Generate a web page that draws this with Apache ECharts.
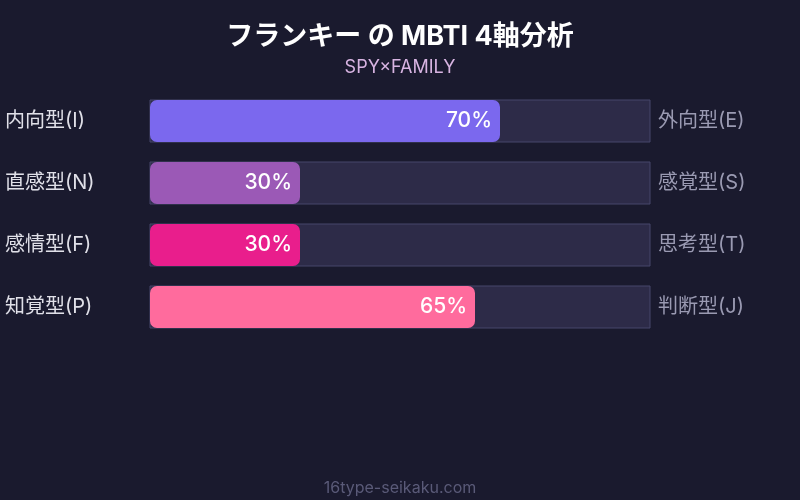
<!DOCTYPE html>
<html>
<head>
<meta charset="utf-8">
<script src="https://cdn.jsdelivr.net/npm/echarts@6/dist/echarts.min.js"></script>
<style>
  html, body { margin: 0; padding: 0; background: #1a1a2e; }
  #main { width: 800px; height: 500px; }
</style>
</head>
<body>
<div id="main"></div>
<script>
// MBTI 4軸 データ
var leftLabels = ['内向型(I)', '直感型(N)', '感情型(F)', '知覚型(P)'];
var rightLabels = ['外向型(E)', '感覚型(S)', '思考型(T)', '判断型(J)'];
var scores = [70, 30, 30, 65];
var barColors = ['#7b68ee', '#9b59b6', '#e91e8c', '#ff6b9d'];

var FONT = "Inter, 'Noto Sans CJK JP', sans-serif";

var chart = echarts.init(document.getElementById('main'));

var barData = scores.map(function (v, i) {
    return { value: v, itemStyle: { color: barColors[i] } };
});

var option = {
    backgroundColor: '#1a1a2e',
    textStyle: { fontFamily: FONT },
    title: [{
        text: 'フランキー の MBTI 4軸分析',
        left: 'center',
        top: 18,
        textStyle: { color: '#ffffff', fontSize: 27, fontWeight: 'bold', fontFamily: FONT }
    }, {
        text: 'SPY×FAMILY',
        left: 'center',
        top: 54,
        textStyle: { color: '#d8b4e2', fontSize: 18, fontWeight: 'normal', fontFamily: FONT }
    }, {
        text: '16type-seikaku.com',
        left: 'center',
        top: 475,
        textStyle: { color: '#5a5a78', fontSize: 16, fontWeight: 'normal', fontFamily: FONT }
    }],
    grid: { left: 150, right: 150, top: 90, height: 248 },
    xAxis: {
        type: 'value',
        min: 0,
        max: 100,
        show: false
    },
    yAxis: [{
        type: 'category',
        data: leftLabels,
        inverse: true,
        position: 'left',
        axisLine: { show: false },
        axisTick: { show: false },
        axisLabel: {
            color: '#e0e0e8',
            fontSize: 20,
            fontFamily: FONT,
            align: 'left',
            margin: 145
        }
    }, {
        type: 'category',
        data: rightLabels,
        inverse: true,
        position: 'right',
        axisLine: { show: false },
        axisTick: { show: false },
        axisLabel: {
            color: '#9a9ab2',
            fontSize: 20,
            fontFamily: FONT,
            margin: 8
        }
    }],
    series: [{
        type: 'bar',
        data: barData,
        barWidth: 42,
        showBackground: true,
        backgroundStyle: {
            color: '#2d2b48',
            borderColor: '#47466a',
            borderWidth: 1
        },
        itemStyle: { borderRadius: 7 },
        label: {
            show: true,
            position: 'insideRight',
            distance: 8,
            formatter: '{c}%',
            color: '#ffffff',
            fontSize: 21,
            fontWeight: 500,
            fontFamily: FONT
        },
        silent: true,
        animation: false
    }]
};

chart.setOption(option);
</script>
</body>
</html>
